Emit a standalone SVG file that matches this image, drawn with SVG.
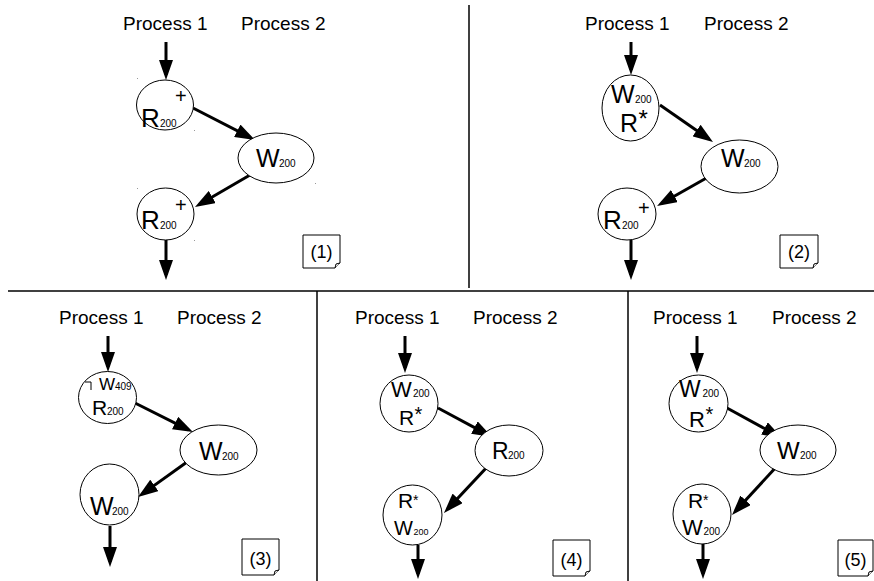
<svg xmlns="http://www.w3.org/2000/svg" width="874" height="581" viewBox="0 0 874 581">
<defs>
<marker id="ah" markerUnits="userSpaceOnUse" markerWidth="20" markerHeight="14" refX="15" refY="7" orient="auto">
<path d="M0,0 L20,7 L0,14 Z" fill="#000"/>
</marker>
<style>
.n{fill:#fff;stroke:#000;stroke-width:1}
.t{font-family:"Liberation Sans",Arial,sans-serif;fill:#000}
.h{font-size:19px}
.b{font-size:25px}
.s{font-size:10px}
.c line{stroke:#000;stroke-width:3;marker-end:url(#ah)}
.d{stroke:#000;stroke-width:1.5;fill:none}
.box{fill:#fff;stroke:#000;stroke-width:1}
.dot{fill:#999}
</style>
</defs>
<rect width="874" height="581" fill="#fff"/>
<g id="dividers">
<line class="d" x1="469" y1="5" x2="469" y2="288"/>
<line class="d" x1="8" y1="291" x2="874" y2="291"/>
<line class="d" x1="317" y1="291" x2="317" y2="581"/>
<line class="d" x1="628" y1="291" x2="628" y2="581"/>
</g>
<g id="headers" class="t h">
<text x="123" y="30">Process 1</text><text x="241" y="30">Process 2</text>
<text x="585" y="30">Process 1</text><text x="704" y="30">Process 2</text>
<text x="59" y="324">Process 1</text><text x="177" y="324">Process 2</text>
<text x="355" y="324">Process 1</text><text x="473" y="324">Process 2</text>
<text x="653" y="324">Process 1</text><text x="772" y="324">Process 2</text>
</g>
<g id="connectors" class="c">
<line x1="166" y1="42" x2="166" y2="75"/>
<line x1="193" y1="108" x2="250.6" y2="137.7"/>
<line x1="250" y1="175" x2="199.3" y2="204.5"/>
<line x1="166" y1="240" x2="166" y2="275"/>
<line x1="631" y1="42" x2="631" y2="70"/>
<line x1="660" y1="105" x2="708.9" y2="139.1"/>
<line x1="710" y1="176" x2="661.4" y2="203.5"/>
<line x1="631" y1="240" x2="631" y2="275"/>
<line x1="108" y1="336" x2="108" y2="367"/>
<line x1="133" y1="402" x2="188.5" y2="429.8"/>
<line x1="187" y1="462" x2="142.1" y2="494.1"/>
<line x1="110" y1="526" x2="110" y2="562"/>
<line x1="405" y1="336" x2="405" y2="368"/>
<line x1="438" y1="408" x2="487.6" y2="434.6"/>
<line x1="488" y1="466" x2="447.4" y2="509.3"/>
<line x1="418" y1="545" x2="418" y2="574"/>
<line x1="697" y1="336" x2="697" y2="368"/>
<line x1="727" y1="408" x2="777.6" y2="435.6"/>
<line x1="778" y1="465" x2="735.4" y2="511.3"/>
<line x1="703" y1="544" x2="703" y2="574"/>
</g>
<g id="p1-r1">
<ellipse class="n" cx="165" cy="105" rx="28.5" ry="25"/>
<text class="t" x="141" y="127" font-size="26">R</text>
<text class="t s" x="160" y="127">200</text>
<text class="t" x="175" y="103" font-size="20">+</text>
</g>
<g id="p1-w">
<ellipse class="n" cx="276" cy="158" rx="38" ry="25"/>
<text class="t b" x="256" y="167">W</text>
<text class="t s" x="279" y="167">200</text>
</g>
<g id="p1-r2">
<ellipse class="n" cx="165.5" cy="214" rx="28.5" ry="26"/>
<text class="t" x="141" y="229" font-size="26">R</text>
<text class="t s" x="160" y="229">200</text>
<text class="t" x="175" y="212" font-size="20">+</text>
</g>
<g id="p1-note">
<path class="box" d="M303,235 H340 V263 L335,268 H303 Z"/>
<path class="box" d="M335,268 L336,264 L340,263"/>
<text class="t" x="321.5" y="258" font-size="18" text-anchor="middle">(1)</text>
</g>
<g id="p2-wr">
<ellipse class="n" cx="630.5" cy="108" rx="28.5" ry="33"/>
<text class="t" x="611" y="103" font-size="25">W</text>
<text class="t s" x="635" y="103">200</text>
<text class="t" x="620" y="132" font-size="25">R</text>
<text class="t" x="638.5" y="127" font-size="24">*</text>
</g>
<g id="p2-w">
<ellipse class="n" cx="739.5" cy="166.5" rx="38.5" ry="26.5"/>
<text class="t b" x="721" y="167">W</text>
<text class="t s" x="744" y="167">200</text>
</g>
<g id="p2-r">
<ellipse class="n" cx="627" cy="214" rx="29" ry="26"/>
<text class="t" x="603" y="229" font-size="26">R</text>
<text class="t s" x="622" y="229">200</text>
<text class="t" x="638" y="215" font-size="20">+</text>
</g>
<g id="p2-note">
<path class="box" d="M780,235 H818 V263 L813,268 H780 Z"/>
<path class="box" d="M813,268 L814,264 L818,263"/>
<text class="t" x="799" y="258" font-size="18" text-anchor="middle">(2)</text>
</g>
<g id="p3-wr">
<ellipse class="n" cx="107.5" cy="397.5" rx="29" ry="26"/>
<path d="M85,382 H91 V390" fill="none" stroke="#000" stroke-width="1"/>
<text class="t" x="99" y="390" font-size="17">W</text>
<text class="t s" x="115" y="390">409</text>
<text class="t" x="92" y="415" font-size="21">R</text>
<text class="t s" x="107" y="415">200</text>
</g>
<g id="p3-w">
<ellipse class="n" cx="218.5" cy="450" rx="38.5" ry="25"/>
<text class="t b" x="199" y="460">W</text>
<text class="t s" x="222" y="460">200</text>
</g>
<g id="p3-w2">
<ellipse class="n" cx="109.5" cy="494.5" rx="29.5" ry="30.5"/>
<text class="t b" x="90" y="515">W</text>
<text class="t s" x="112" y="515">200</text>
</g>
<g id="p3-note">
<path class="box" d="M242,539 H279 V570 L274,575 H242 Z"/>
<path class="box" d="M274,575 L275,571 L279,570"/>
<text class="t" x="260.5" y="565" font-size="18" text-anchor="middle">(3)</text>
</g>
<g id="p4-wr">
<ellipse class="n" cx="409" cy="403.5" rx="29" ry="28.5"/>
<text class="t" x="391" y="397" font-size="22">W</text>
<text class="t s" x="413" y="397">200</text>
<text class="t" x="399" y="425" font-size="21">R</text>
<text class="t" x="414.5" y="421" font-size="20">*</text>
</g>
<g id="p4-r">
<ellipse class="n" cx="509" cy="450.5" rx="34" ry="25.5"/>
<text class="t" x="492" y="459" font-size="23">R</text>
<text class="t s" x="508" y="459">200</text>
</g>
<g id="p4-rw">
<ellipse class="n" cx="412.5" cy="515" rx="29.5" ry="30"/>
<text class="t" x="398" y="508" font-size="21">R</text>
<text class="t" x="413" y="505" font-size="14">*</text>
<text class="t" x="394" y="535" font-size="20">W</text>
<text class="t" x="413.5" y="535" font-size="9">200</text>
</g>
<g id="p4-note">
<path class="box" d="M553,540 H590 V571 L585,576 H553 Z"/>
<path class="box" d="M585,576 L586,572 L590,571"/>
<text class="t" x="571.5" y="566" font-size="18" text-anchor="middle">(4)</text>
</g>
<g id="p5-wr">
<ellipse class="n" cx="698.5" cy="403.5" rx="29.5" ry="28.5"/>
<text class="t" x="679" y="397" font-size="23">W</text>
<text class="t s" x="702.5" y="397">200</text>
<text class="t" x="689" y="427" font-size="22">R</text>
<text class="t" x="705.5" y="421" font-size="20">*</text>
</g>
<g id="p5-w">
<ellipse class="n" cx="798" cy="450" rx="38" ry="25"/>
<text class="t" x="777" y="459" font-size="24">W</text>
<text class="t s" x="800" y="459">200</text>
</g>
<g id="p5-rw">
<ellipse class="n" cx="702" cy="514" rx="29" ry="30"/>
<text class="t" x="688" y="508" font-size="21">R</text>
<text class="t" x="703" y="505" font-size="14">*</text>
<text class="t" x="682" y="535" font-size="22">W</text>
<text class="t s" x="703.5" y="535">200</text>
</g>
<g id="p5-note">
<path class="box" d="M838,540 H873 V571 L868,576 H838 Z"/>
<path class="box" d="M868,576 L869,572 L873,571"/>
<text class="t" x="855.5" y="566" font-size="18" text-anchor="middle">(5)</text>
</g>
<g id="marks" class="dot">
<rect x="137" y="78" width="1" height="1"/><rect x="194" y="130" width="1" height="1"/>
<rect x="315" y="183" width="1" height="1"/><rect x="137" y="188" width="1" height="1"/>
<rect x="194" y="240" width="1" height="1"/>
</g>
</svg>
